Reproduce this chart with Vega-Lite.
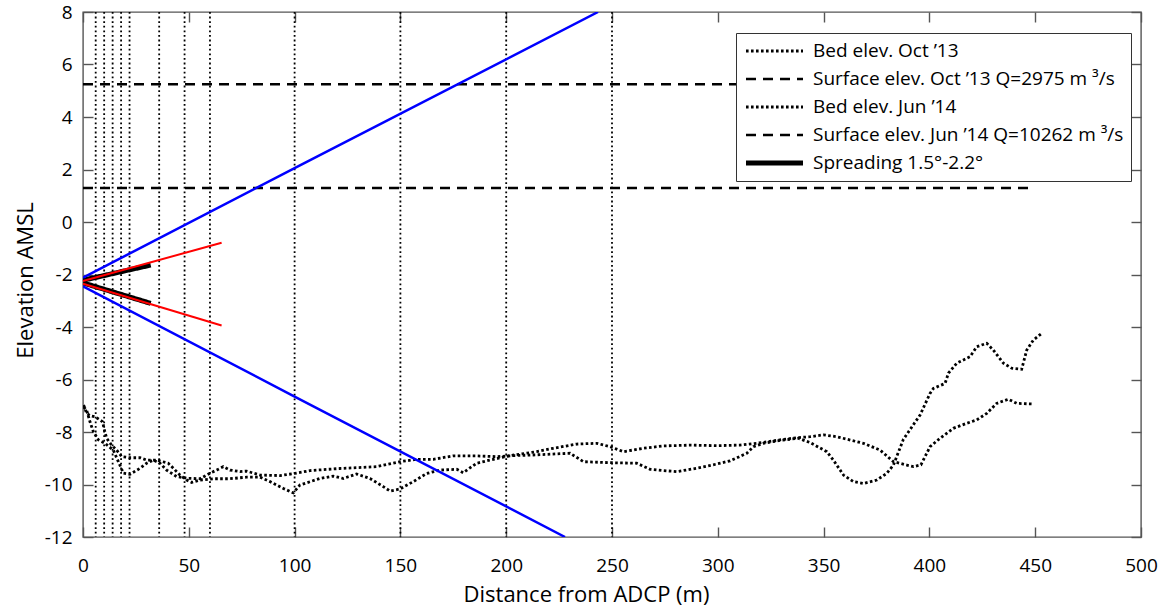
{
  "$schema": "https://vega.github.io/schema/vega-lite/v6.json",
  "width": 1058,
  "height": 525,
  "autosize": "none",
  "padding": {"left": 83, "top": 12, "right": 23, "bottom": 73},
  "background": "white",
  "config": {
    "font": "Open Sans",
    "view": {"stroke": "#555555", "strokeWidth": 1.4},
    "axis": {
      "domain": false,
      "grid": false,
      "labelFontSize": 19,
      "titleFontSize": 22,
      "labelColor": "black",
      "titleColor": "black",
      "titleFontWeight": "normal",
      "labelFont": "Open Sans",
      "titleFont": "Open Sans",
      "labelFlush": false,
      "labelOverlap": false
    }
  },
  "resolve": {"axis": {"x": "independent", "y": "independent"}},
  "datasets": {
    "rules": [
      {"x": 6}, {"x": 10}, {"x": 14}, {"x": 18}, {"x": 22}, {"x": 36}, {"x": 48}, {"x": 60},
      {"x": 100}, {"x": 150}, {"x": 200}, {"x": 250}
    ],
    "profiles": [
      {"s": "Surface elev. Oct ’13 Q=2975 m ³/s", "id": "s1", "x": 0, "y": 1.3},
      {"s": "Surface elev. Oct ’13 Q=2975 m ³/s", "id": "s1", "x": 448, "y": 1.3},
      {"s": "Surface elev. Jun ’14 Q=10262 m ³/s", "id": "s2", "x": 0, "y": 5.25},
      {"s": "Surface elev. Jun ’14 Q=10262 m ³/s", "id": "s2", "x": 448, "y": 5.25},

      {"s": "Bed elev. Oct ’13", "id": "b1", "x": 0.3, "y": -6.97},
      {"s": "Bed elev. Oct ’13", "id": "b1", "x": 1.7, "y": -7.29},
      {"s": "Bed elev. Oct ’13", "id": "b1", "x": 3.3, "y": -7.38},
      {"s": "Bed elev. Oct ’13", "id": "b1", "x": 5.7, "y": -7.42},
      {"s": "Bed elev. Oct ’13", "id": "b1", "x": 8.0, "y": -7.54},
      {"s": "Bed elev. Oct ’13", "id": "b1", "x": 9.3, "y": -7.61},
      {"s": "Bed elev. Oct ’13", "id": "b1", "x": 9.9, "y": -7.86},
      {"s": "Bed elev. Oct ’13", "id": "b1", "x": 11.2, "y": -8.24},
      {"s": "Bed elev. Oct ’13", "id": "b1", "x": 13.5, "y": -8.5},
      {"s": "Bed elev. Oct ’13", "id": "b1", "x": 15.9, "y": -8.69},
      {"s": "Bed elev. Oct ’13", "id": "b1", "x": 18.3, "y": -8.94},
      {"s": "Bed elev. Oct ’13", "id": "b1", "x": 22.2, "y": -8.98},
      {"s": "Bed elev. Oct ’13", "id": "b1", "x": 27, "y": -8.98},
      {"s": "Bed elev. Oct ’13", "id": "b1", "x": 30.1, "y": -9.07},
      {"s": "Bed elev. Oct ’13", "id": "b1", "x": 34.8, "y": -9.07},
      {"s": "Bed elev. Oct ’13", "id": "b1", "x": 40.3, "y": -9.19},
      {"s": "Bed elev. Oct ’13", "id": "b1", "x": 42.7, "y": -9.38},
      {"s": "Bed elev. Oct ’13", "id": "b1", "x": 45.8, "y": -9.64},
      {"s": "Bed elev. Oct ’13", "id": "b1", "x": 49, "y": -9.83},
      {"s": "Bed elev. Oct ’13", "id": "b1", "x": 51.4, "y": -9.92},
      {"s": "Bed elev. Oct ’13", "id": "b1", "x": 55.3, "y": -9.83},
      {"s": "Bed elev. Oct ’13", "id": "b1", "x": 61.6, "y": -9.78},
      {"s": "Bed elev. Oct ’13", "id": "b1", "x": 69.5, "y": -9.78},
      {"s": "Bed elev. Oct ’13", "id": "b1", "x": 77.3, "y": -9.72},
      {"s": "Bed elev. Oct ’13", "id": "b1", "x": 83.7, "y": -9.72},
      {"s": "Bed elev. Oct ’13", "id": "b1", "x": 88.4, "y": -9.89},
      {"s": "Bed elev. Oct ’13", "id": "b1", "x": 94.7, "y": -10.15},
      {"s": "Bed elev. Oct ’13", "id": "b1", "x": 99.4, "y": -10.32},
      {"s": "Bed elev. Oct ’13", "id": "b1", "x": 102.5, "y": -10.02},
      {"s": "Bed elev. Oct ’13", "id": "b1", "x": 112, "y": -9.77},
      {"s": "Bed elev. Oct ’13", "id": "b1", "x": 118.3, "y": -9.68},
      {"s": "Bed elev. Oct ’13", "id": "b1", "x": 123, "y": -9.77},
      {"s": "Bed elev. Oct ’13", "id": "b1", "x": 129.3, "y": -9.6},
      {"s": "Bed elev. Oct ’13", "id": "b1", "x": 135.6, "y": -9.77},
      {"s": "Bed elev. Oct ’13", "id": "b1", "x": 141.9, "y": -10.08},
      {"s": "Bed elev. Oct ’13", "id": "b1", "x": 145.1, "y": -10.25},
      {"s": "Bed elev. Oct ’13", "id": "b1", "x": 149.8, "y": -10.17},
      {"s": "Bed elev. Oct ’13", "id": "b1", "x": 156.1, "y": -9.89},
      {"s": "Bed elev. Oct ’13", "id": "b1", "x": 162.4, "y": -9.58},
      {"s": "Bed elev. Oct ’13", "id": "b1", "x": 168.7, "y": -9.45},
      {"s": "Bed elev. Oct ’13", "id": "b1", "x": 176.6, "y": -9.42},
      {"s": "Bed elev. Oct ’13", "id": "b1", "x": 179.7, "y": -9.55},
      {"s": "Bed elev. Oct ’13", "id": "b1", "x": 186, "y": -9.19},
      {"s": "Bed elev. Oct ’13", "id": "b1", "x": 192.3, "y": -9.07},
      {"s": "Bed elev. Oct ’13", "id": "b1", "x": 201.8, "y": -8.9},
      {"s": "Bed elev. Oct ’13", "id": "b1", "x": 214.4, "y": -8.75},
      {"s": "Bed elev. Oct ’13", "id": "b1", "x": 222.3, "y": -8.62},
      {"s": "Bed elev. Oct ’13", "id": "b1", "x": 233.3, "y": -8.46},
      {"s": "Bed elev. Oct ’13", "id": "b1", "x": 242.8, "y": -8.43},
      {"s": "Bed elev. Oct ’13", "id": "b1", "x": 249.1, "y": -8.56},
      {"s": "Bed elev. Oct ’13", "id": "b1", "x": 255.4, "y": -8.75},
      {"s": "Bed elev. Oct ’13", "id": "b1", "x": 264.8, "y": -8.62},
      {"s": "Bed elev. Oct ’13", "id": "b1", "x": 274.3, "y": -8.53},
      {"s": "Bed elev. Oct ’13", "id": "b1", "x": 286.9, "y": -8.5},
      {"s": "Bed elev. Oct ’13", "id": "b1", "x": 300, "y": -8.52},
      {"s": "Bed elev. Oct ’13", "id": "b1", "x": 310.5, "y": -8.5},
      {"s": "Bed elev. Oct ’13", "id": "b1", "x": 318.4, "y": -8.43},
      {"s": "Bed elev. Oct ’13", "id": "b1", "x": 329.4, "y": -8.3},
      {"s": "Bed elev. Oct ’13", "id": "b1", "x": 337, "y": -8.22},
      {"s": "Bed elev. Oct ’13", "id": "b1", "x": 343.6, "y": -8.18},
      {"s": "Bed elev. Oct ’13", "id": "b1", "x": 349.9, "y": -8.11},
      {"s": "Bed elev. Oct ’13", "id": "b1", "x": 356.2, "y": -8.18},
      {"s": "Bed elev. Oct ’13", "id": "b1", "x": 368.8, "y": -8.43},
      {"s": "Bed elev. Oct ’13", "id": "b1", "x": 376.7, "y": -8.69},
      {"s": "Bed elev. Oct ’13", "id": "b1", "x": 383, "y": -9.13},
      {"s": "Bed elev. Oct ’13", "id": "b1", "x": 389.3, "y": -9.26},
      {"s": "Bed elev. Oct ’13", "id": "b1", "x": 392.5, "y": -9.32},
      {"s": "Bed elev. Oct ’13", "id": "b1", "x": 396, "y": -9.25},
      {"s": "Bed elev. Oct ’13", "id": "b1", "x": 400.3, "y": -8.56},
      {"s": "Bed elev. Oct ’13", "id": "b1", "x": 405, "y": -8.24},
      {"s": "Bed elev. Oct ’13", "id": "b1", "x": 411.3, "y": -7.86},
      {"s": "Bed elev. Oct ’13", "id": "b1", "x": 417.6, "y": -7.67},
      {"s": "Bed elev. Oct ’13", "id": "b1", "x": 422.4, "y": -7.54},
      {"s": "Bed elev. Oct ’13", "id": "b1", "x": 427.1, "y": -7.29},
      {"s": "Bed elev. Oct ’13", "id": "b1", "x": 431.8, "y": -6.91},
      {"s": "Bed elev. Oct ’13", "id": "b1", "x": 437.3, "y": -6.75},
      {"s": "Bed elev. Oct ’13", "id": "b1", "x": 441.3, "y": -6.91},
      {"s": "Bed elev. Oct ’13", "id": "b1", "x": 448.3, "y": -6.93},

      {"s": "Bed elev. Jun ’14", "id": "b2", "x": 0.3, "y": -7.05},
      {"s": "Bed elev. Jun ’14", "id": "b2", "x": 1.7, "y": -7.16},
      {"s": "Bed elev. Jun ’14", "id": "b2", "x": 3.3, "y": -7.61},
      {"s": "Bed elev. Jun ’14", "id": "b2", "x": 4.9, "y": -7.99},
      {"s": "Bed elev. Jun ’14", "id": "b2", "x": 7.3, "y": -8.3},
      {"s": "Bed elev. Jun ’14", "id": "b2", "x": 10.4, "y": -8.43},
      {"s": "Bed elev. Jun ’14", "id": "b2", "x": 14.3, "y": -8.69},
      {"s": "Bed elev. Jun ’14", "id": "b2", "x": 16.7, "y": -9.13},
      {"s": "Bed elev. Jun ’14", "id": "b2", "x": 19.1, "y": -9.57},
      {"s": "Bed elev. Jun ’14", "id": "b2", "x": 22.2, "y": -9.61},
      {"s": "Bed elev. Jun ’14", "id": "b2", "x": 27, "y": -9.38},
      {"s": "Bed elev. Jun ’14", "id": "b2", "x": 30.1, "y": -9.19},
      {"s": "Bed elev. Jun ’14", "id": "b2", "x": 33.2, "y": -9.07},
      {"s": "Bed elev. Jun ’14", "id": "b2", "x": 36.4, "y": -9.19},
      {"s": "Bed elev. Jun ’14", "id": "b2", "x": 39.5, "y": -9.45},
      {"s": "Bed elev. Jun ’14", "id": "b2", "x": 44.3, "y": -9.7},
      {"s": "Bed elev. Jun ’14", "id": "b2", "x": 49, "y": -9.76},
      {"s": "Bed elev. Jun ’14", "id": "b2", "x": 55.3, "y": -9.78},
      {"s": "Bed elev. Jun ’14", "id": "b2", "x": 60, "y": -9.57},
      {"s": "Bed elev. Jun ’14", "id": "b2", "x": 63.2, "y": -9.45},
      {"s": "Bed elev. Jun ’14", "id": "b2", "x": 66.3, "y": -9.32},
      {"s": "Bed elev. Jun ’14", "id": "b2", "x": 69.5, "y": -9.45},
      {"s": "Bed elev. Jun ’14", "id": "b2", "x": 74.2, "y": -9.51},
      {"s": "Bed elev. Jun ’14", "id": "b2", "x": 77.3, "y": -9.49},
      {"s": "Bed elev. Jun ’14", "id": "b2", "x": 83.7, "y": -9.64},
      {"s": "Bed elev. Jun ’14", "id": "b2", "x": 93.1, "y": -9.66},
      {"s": "Bed elev. Jun ’14", "id": "b2", "x": 100, "y": -9.58},
      {"s": "Bed elev. Jun ’14", "id": "b2", "x": 107.3, "y": -9.47},
      {"s": "Bed elev. Jun ’14", "id": "b2", "x": 121.4, "y": -9.39},
      {"s": "Bed elev. Jun ’14", "id": "b2", "x": 129.3, "y": -9.36},
      {"s": "Bed elev. Jun ’14", "id": "b2", "x": 138.8, "y": -9.32},
      {"s": "Bed elev. Jun ’14", "id": "b2", "x": 149.8, "y": -9.13},
      {"s": "Bed elev. Jun ’14", "id": "b2", "x": 157.7, "y": -9.04},
      {"s": "Bed elev. Jun ’14", "id": "b2", "x": 165.5, "y": -9.04},
      {"s": "Bed elev. Jun ’14", "id": "b2", "x": 175, "y": -8.91},
      {"s": "Bed elev. Jun ’14", "id": "b2", "x": 186, "y": -8.91},
      {"s": "Bed elev. Jun ’14", "id": "b2", "x": 195.5, "y": -8.94},
      {"s": "Bed elev. Jun ’14", "id": "b2", "x": 203, "y": -8.9},
      {"s": "Bed elev. Jun ’14", "id": "b2", "x": 211.3, "y": -8.88},
      {"s": "Bed elev. Jun ’14", "id": "b2", "x": 230.2, "y": -8.81},
      {"s": "Bed elev. Jun ’14", "id": "b2", "x": 236.5, "y": -9.13},
      {"s": "Bed elev. Jun ’14", "id": "b2", "x": 249.1, "y": -9.17},
      {"s": "Bed elev. Jun ’14", "id": "b2", "x": 261.7, "y": -9.19},
      {"s": "Bed elev. Jun ’14", "id": "b2", "x": 268, "y": -9.42},
      {"s": "Bed elev. Jun ’14", "id": "b2", "x": 274.3, "y": -9.47},
      {"s": "Bed elev. Jun ’14", "id": "b2", "x": 280.6, "y": -9.51},
      {"s": "Bed elev. Jun ’14", "id": "b2", "x": 290, "y": -9.38},
      {"s": "Bed elev. Jun ’14", "id": "b2", "x": 299.5, "y": -9.22},
      {"s": "Bed elev. Jun ’14", "id": "b2", "x": 305.8, "y": -9.1},
      {"s": "Bed elev. Jun ’14", "id": "b2", "x": 313.7, "y": -8.81},
      {"s": "Bed elev. Jun ’14", "id": "b2", "x": 316.8, "y": -8.56},
      {"s": "Bed elev. Jun ’14", "id": "b2", "x": 321.6, "y": -8.43},
      {"s": "Bed elev. Jun ’14", "id": "b2", "x": 329.4, "y": -8.32},
      {"s": "Bed elev. Jun ’14", "id": "b2", "x": 338, "y": -8.24},
      {"s": "Bed elev. Jun ’14", "id": "b2", "x": 343.6, "y": -8.4},
      {"s": "Bed elev. Jun ’14", "id": "b2", "x": 351.5, "y": -8.75},
      {"s": "Bed elev. Jun ’14", "id": "b2", "x": 354.6, "y": -9.07},
      {"s": "Bed elev. Jun ’14", "id": "b2", "x": 359.4, "y": -9.64},
      {"s": "Bed elev. Jun ’14", "id": "b2", "x": 364.1, "y": -9.89},
      {"s": "Bed elev. Jun ’14", "id": "b2", "x": 368.8, "y": -9.96},
      {"s": "Bed elev. Jun ’14", "id": "b2", "x": 375.1, "y": -9.83},
      {"s": "Bed elev. Jun ’14", "id": "b2", "x": 379.8, "y": -9.58},
      {"s": "Bed elev. Jun ’14", "id": "b2", "x": 383, "y": -9.26},
      {"s": "Bed elev. Jun ’14", "id": "b2", "x": 387.7, "y": -8.28},
      {"s": "Bed elev. Jun ’14", "id": "b2", "x": 395.6, "y": -7.35},
      {"s": "Bed elev. Jun ’14", "id": "b2", "x": 400.3, "y": -6.53},
      {"s": "Bed elev. Jun ’14", "id": "b2", "x": 401.9, "y": -6.34},
      {"s": "Bed elev. Jun ’14", "id": "b2", "x": 407.4, "y": -6.15},
      {"s": "Bed elev. Jun ’14", "id": "b2", "x": 409, "y": -5.76},
      {"s": "Bed elev. Jun ’14", "id": "b2", "x": 412.9, "y": -5.38},
      {"s": "Bed elev. Jun ’14", "id": "b2", "x": 419.2, "y": -5.13},
      {"s": "Bed elev. Jun ’14", "id": "b2", "x": 422.4, "y": -4.75},
      {"s": "Bed elev. Jun ’14", "id": "b2", "x": 427.1, "y": -4.62},
      {"s": "Bed elev. Jun ’14", "id": "b2", "x": 430.2, "y": -4.88},
      {"s": "Bed elev. Jun ’14", "id": "b2", "x": 435, "y": -5.38},
      {"s": "Bed elev. Jun ’14", "id": "b2", "x": 438.9, "y": -5.57},
      {"s": "Bed elev. Jun ’14", "id": "b2", "x": 443.6, "y": -5.61},
      {"s": "Bed elev. Jun ’14", "id": "b2", "x": 446, "y": -4.88},
      {"s": "Bed elev. Jun ’14", "id": "b2", "x": 449.1, "y": -4.5},
      {"s": "Bed elev. Jun ’14", "id": "b2", "x": 453.1, "y": -4.24},

      {"s": "Spreading 1.5°-2.2°", "id": "k1", "x": 0, "y": -2.22},
      {"s": "Spreading 1.5°-2.2°", "id": "k1", "x": 32, "y": -1.64},
      {"s": "Spreading 1.5°-2.2°", "id": "k2", "x": 0, "y": -2.32},
      {"s": "Spreading 1.5°-2.2°", "id": "k2", "x": 32, "y": -3.1}
    ],
    "blue": [
      {"id": "u", "x": 0, "y": -2.12},
      {"id": "u", "x": 100, "y": 2.05},
      {"id": "u", "x": 243.4, "y": 8},
      {"id": "d", "x": 0, "y": -2.45},
      {"id": "d", "x": 100, "y": -6.65},
      {"id": "d", "x": 227.8, "y": -12}
    ],
    "red": [
      {"id": "u", "x": 0, "y": -2.25},
      {"id": "u", "x": 65.5, "y": -0.79},
      {"id": "d", "x": 0, "y": -2.35},
      {"id": "d", "x": 65.5, "y": -3.94}
    ]
  },
  "layer": [
    {
      "data": {"name": "rules"},
      "mark": {"type": "rule", "color": "black", "strokeWidth": 1.8, "strokeDash": [1.8, 2.8]},
      "encoding": {
        "x": {"field": "x", "type": "quantitative", "scale": {"domain": [0, 500], "nice": false, "zero": false}, "axis": null}
      }
    },
    {
      "data": {"name": "profiles"},
      "mark": {"type": "line", "clip": true},
      "encoding": {
        "x": {
          "field": "x", "type": "quantitative",
          "scale": {"domain": [0, 500], "nice": false, "zero": false},
          "axis": {"orient": "bottom", "values": [0, 50, 100, 150, 200, 250, 300, 350, 400, 450, 500], "title": "Distance from ADCP (m)",
            "ticks": true, "tickSize": 10, "tickColor": "#555555", "tickWidth": 1.4, "offset": -10,
            "labelPadding": 19, "titlePadding": 9, "titleX": 503, "labelExpr": "'' + datum.value"}
        },
        "y": {
          "field": "y", "type": "quantitative",
          "scale": {"domain": [-12, 8], "nice": false, "zero": false},
          "axis": {"orient": "left", "values": [-12, -10, -8, -6, -4, -2, 0, 2, 4, 6, 8], "title": "Elevation AMSL",
            "ticks": true, "tickSize": 10, "tickColor": "#555555", "tickWidth": 1.4, "offset": -10,
            "labelPadding": 11, "titlePadding": 7, "titleY": 268, "labelExpr": "'' + datum.value"}
        },
        "detail": {"field": "id"},
        "color": {
          "field": "s", "type": "nominal",
          "scale": {
            "domain": ["Bed elev. Oct ’13", "Surface elev. Oct ’13 Q=2975 m ³/s", "Bed elev. Jun ’14", "Surface elev. Jun ’14 Q=10262 m ³/s", "Spreading 1.5°-2.2°"],
            "range": ["black", "black", "black", "black", "black"]
          },
          "legend": {
            "title": null, "orient": "none", "legendX": 653, "legendY": 21,
            "symbolType": "stroke", "symbolSize": 3250, "labelFontSize": 19, "labelFont": "Open Sans",
            "labelColor": "black", "strokeColor": "#333333", "fillColor": "white", "padding": 7,
            "rowPadding": 6, "clipHeight": 22, "labelLimit": 500, "labelOffset": 7
          }
        },
        "strokeDash": {
          "field": "s", "type": "nominal",
          "scale": {
            "type": "ordinal",
            "domain": ["Bed elev. Oct ’13", "Surface elev. Oct ’13 Q=2975 m ³/s", "Bed elev. Jun ’14", "Surface elev. Jun ’14 Q=10262 m ³/s", "Spreading 1.5°-2.2°"],
            "range": [[2.6, 2.4], [10, 7], [2.6, 2.4], [10, 7], [1, 0]]
          }
        },
        "strokeWidth": {
          "field": "s", "type": "nominal",
          "scale": {
            "type": "ordinal",
            "domain": ["Bed elev. Oct ’13", "Surface elev. Oct ’13 Q=2975 m ³/s", "Bed elev. Jun ’14", "Surface elev. Jun ’14 Q=10262 m ³/s", "Spreading 1.5°-2.2°"],
            "range": [2.8, 2.5, 2.8, 2.5, 5]
          }
        }
      }
    },
    {
      "data": {"name": "blue"},
      "mark": {"type": "line", "color": "#0000ff", "strokeWidth": 2.5, "clip": true},
      "encoding": {
        "x": {"field": "x", "type": "quantitative", "scale": {"domain": [0, 500], "nice": false, "zero": false},
          "axis": {"orient": "top", "values": [0, 50, 100, 150, 200, 250, 300, 350, 400, 450, 500], "labels": false, "title": null,
            "ticks": true, "tickSize": 10, "tickColor": "#555555", "tickWidth": 1.4, "offset": -10}},
        "y": {"field": "y", "type": "quantitative", "scale": {"domain": [-12, 8], "nice": false, "zero": false},
          "axis": {"orient": "right", "values": [-12, -10, -8, -6, -4, -2, 0, 2, 4, 6, 8], "labels": false, "title": null,
            "ticks": true, "tickSize": 10, "tickColor": "#555555", "tickWidth": 1.4, "offset": -10}},
        "detail": {"field": "id"}
      }
    },
    {
      "data": {"name": "red"},
      "mark": {"type": "line", "color": "#ff0000", "strokeWidth": 2},
      "encoding": {
        "x": {"field": "x", "type": "quantitative", "scale": {"domain": [0, 500], "nice": false, "zero": false}, "axis": null},
        "y": {"field": "y", "type": "quantitative", "scale": {"domain": [-12, 8], "nice": false, "zero": false}, "axis": null},
        "detail": {"field": "id"}
      }
    }
  ]
}
